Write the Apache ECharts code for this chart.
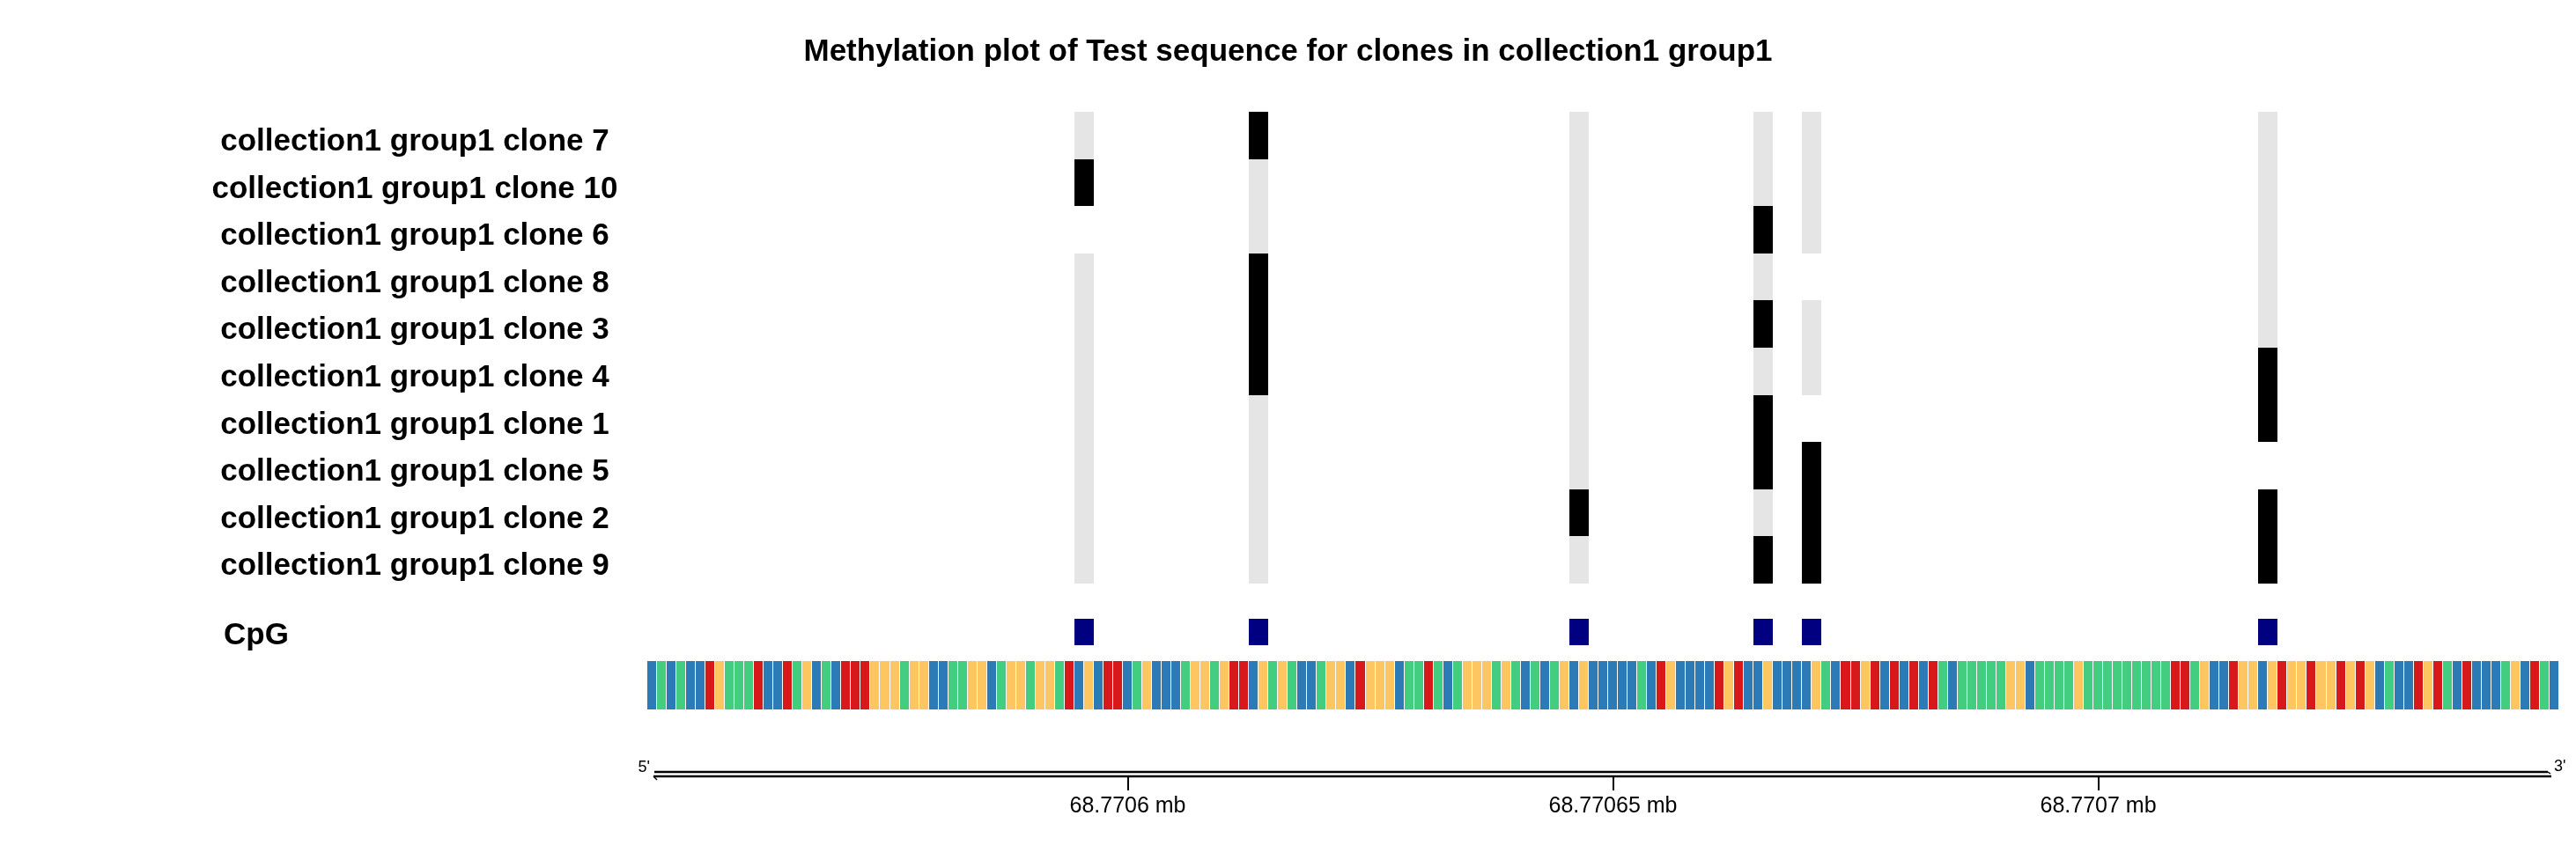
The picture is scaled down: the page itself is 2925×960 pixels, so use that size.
<!DOCTYPE html>
<html>
<head>
<meta charset="utf-8">
<script src="https://cdn.jsdelivr.net/npm/echarts@6/dist/echarts.min.js"></script>
<style>
html, body { margin: 0; padding: 0; background: #fff; }
#main { width: 2925px; height: 960px; }
</style>
</head>
<body>
<div id="main"></div>
<script>
// clones, top to bottom
var clones = [
    'collection1 group1 clone 7',
    'collection1 group1 clone 10',
    'collection1 group1 clone 6',
    'collection1 group1 clone 8',
    'collection1 group1 clone 3',
    'collection1 group1 clone 4',
    'collection1 group1 clone 1',
    'collection1 group1 clone 5',
    'collection1 group1 clone 2',
    'collection1 group1 clone 9'
];
// genomic position of the C of each CpG
var cpgPositions = [68770595, 68770613, 68770646, 68770665, 68770670, 68770717];
// 1 = methylated, 0 = unmethylated, null = no call (one entry per CpG)
var methylation = [
    [0, 1, 0, 0, 0, 0],
    [1, 0, 0, 0, 0, 0],
    [null, 0, 0, 1, 0, 0],
    [0, 1, 0, 0, null, 0],
    [0, 1, 0, 1, 0, 0],
    [0, 1, 0, 0, 0, 1],
    [0, 0, 0, 1, null, 1],
    [0, 0, 0, 1, 1, null],
    [0, 0, 1, 0, 1, 1],
    [0, 0, 0, 1, 1, 1]
];
var seqStart = 68770551;
var sequence = 'CACACCTGAAATCCTAGCACTTTGGGAGGCCAAGGCAGGAGGATCGCTTC' +
               'AGCCCAGGAGTTCGAGACCAGGCTGGGCAATACAGGGAGACACAGCGCCC' +
               'CCACTGCCCCTGTCCGCCCCGACTTGTCTCTCTACAAAAAGGCAAAAGAA' +
               'AAAAAAATTAGCCTGGCGTGGTGGTGTGCACCTGTACTCCCAGCTAC';
var tickValues = [68770600, 68770650, 68770700];
var tickLabels = ['68.7706 mb', '68.77065 mb', '68.7707 mb'];

var baseColors = { A: '#43cd80', C: '#2c7bb6', G: '#fdc661', T: '#d7191c' };
var FONT = '"Liberation Sans", Arial, Helvetica, sans-serif';

var xMin = seqStart - 0.5;
var xMax = seqStart + sequence.length - 0.5;

var myChart = echarts.init(document.getElementById('main'));

var methData = [];
for (var r = 0; r < clones.length; r++) {
    for (var c = 0; c < cpgPositions.length; c++) {
        if (methylation[r][c] !== null) {
            methData.push([cpgPositions[c], r, methylation[r][c]]);
        }
    }
}
var seqData = [];
for (var i = 0; i < sequence.length; i++) {
    seqData.push([seqStart + i, 0]);
}

function xAxisFor(gridIndex) {
    return {
        type: 'value', gridIndex: gridIndex, min: xMin, max: xMax,
        show: false, splitLine: { show: false }
    };
}

// snapped box from x range and band centre, so neighbours touch without seams
function box(api, xa, xb, row, gap) {
    var a = api.coord([xa, row]);
    var b = api.coord([xb, row]);
    var h = api.size([0, 1])[1];
    var x0 = Math.round(a[0]), x1 = Math.round(b[0]);
    var y0 = Math.round(a[1] - h / 2), y1 = Math.round(a[1] + h / 2);
    return { x: x0, y: y0, width: x1 - x0 - (gap || 0), height: y1 - y0 };
}

var axis3 = xAxisFor(3);
axis3.show = true;
axis3.position = 'bottom';
axis3.axisLine = { show: false };
axis3.axisTick = {
    show: true, customValues: tickValues, length: 16,
    lineStyle: { color: '#000', width: 2 }
};
axis3.axisLabel = {
    show: true, customValues: tickValues, margin: 22,
    fontSize: 25, color: '#000', fontFamily: FONT,
    formatter: function (v) {
        var k = tickValues.indexOf(v);
        return k >= 0 ? tickLabels[k] : '';
    }
};

var option = {
    animation: false,
    backgroundColor: '#fff',
    title: {
        text: 'Methylation plot of Test sequence for clones in collection1 group1',
        left: 'center',
        top: 37,
        textStyle: { fontSize: 35, fontWeight: 'bold', color: '#000', fontFamily: FONT }
    },
    grid: [
        { left: 735, right: 19, top: 127, height: 536 },
        { left: 735, right: 19, top: 703, height: 30 },
        { left: 735, right: 19, top: 751, height: 55 },
        { left: 735, right: 19, top: 872, height: 10 }
    ],
    xAxis: [xAxisFor(0), xAxisFor(1), xAxisFor(2), axis3],
    yAxis: [
        {
            type: 'category', gridIndex: 0, data: clones, inverse: true,
            axisLine: { show: false }, axisTick: { show: false }, splitLine: { show: false },
            axisLabel: {
                align: 'center', margin: 264, color: '#000',
                formatter: function (v) { return '{l|' + v + '}'; },
                rich: {
                    l: {
                        fontSize: 35, fontWeight: 'bold', fontFamily: FONT, color: '#000',
                        padding: [15, 0, 0, 0]
                    }
                }
            }
        },
        {
            type: 'category', gridIndex: 1, data: ['CpG'],
            axisLine: { show: false }, axisTick: { show: false }, splitLine: { show: false },
            axisLabel: {
                align: 'left', margin: 481, color: '#000',
                formatter: function (v) { return '{l|' + v + '}'; },
                rich: {
                    l: {
                        fontSize: 35, fontWeight: 'bold', fontFamily: FONT, color: '#000',
                        padding: [8, 0, 0, 0]
                    }
                }
            }
        },
        {
            type: 'category', gridIndex: 2, data: [''], show: false
        },
        {
            type: 'value', gridIndex: 3, min: 0, max: 1, show: false, splitLine: { show: false }
        }
    ],
    series: [
        {
            // methylation calls per clone
            type: 'custom', xAxisIndex: 0, yAxisIndex: 0,
            encode: { x: 0, y: 1 },
            data: methData,
            renderItem: function (params, api) {
                return {
                    type: 'rect',
                    shape: box(api, api.value(0) - 0.5, api.value(0) + 1.5, api.value(1)),
                    style: { fill: api.value(2) ? '#000000' : '#e5e5e5' }
                };
            }
        },
        {
            // CpG sites
            type: 'custom', xAxisIndex: 1, yAxisIndex: 1,
            encode: { x: 0, y: 1 },
            data: cpgPositions.map(function (p) { return [p, 0]; }),
            renderItem: function (params, api) {
                return {
                    type: 'rect',
                    shape: box(api, api.value(0) - 0.5, api.value(0) + 1.5, 0),
                    style: { fill: '#000080' }
                };
            }
        },
        {
            // sequence, one box per base
            type: 'custom', xAxisIndex: 2, yAxisIndex: 2,
            encode: { x: 0, y: 1 },
            data: seqData,
            renderItem: function (params, api) {
                var base = sequence.charAt(params.dataIndex);
                return {
                    type: 'rect',
                    shape: box(api, api.value(0) - 0.5, api.value(0) + 0.5, 0, 1),
                    style: { fill: baseColors[base] }
                };
            }
        },
        {
            // genome axis: double line with strand ends
            type: 'custom', xAxisIndex: 3, yAxisIndex: 3,
            data: [[xMin, xMax]],
            renderItem: function (params, api) {
                var lo = api.coord([api.value(0), 0]);
                var hi = api.coord([api.value(1), 0]);
                var top = Math.round(api.coord([api.value(0), 0.5])[1]);
                var bot = Math.round(lo[1]);
                var x0 = Math.round(lo[0]) + 7, x1 = Math.round(hi[0]) - 9;
                var line = { stroke: '#000', lineWidth: 2.5 };
                return {
                    type: 'group',
                    children: [
                        { type: 'line', shape: { x1: x0 + 1, y1: top, x2: x1 - 4, y2: top }, style: line },
                        { type: 'line', shape: { x1: x0, y1: bot, x2: x1, y2: bot }, style: line },
                        { type: 'line', shape: { x1: x0, y1: bot, x2: x0 + 4, y2: bot + 4 }, style: { stroke: '#000', lineWidth: 1.5 } },
                        { type: 'line', shape: { x1: x1 - 4, y1: top, x2: x1 - 1, y2: top + 2 }, style: { stroke: '#000', lineWidth: 1.5 } },
                        {
                            type: 'text',
                            style: { x: lo[0] + 3, y: top - 5, text: "5'", fill: '#000', font: '18px ' + FONT, align: 'right', verticalAlign: 'middle' }
                        },
                        {
                            type: 'text',
                            style: { x: x1 + 3, y: top - 6, text: "3'", fill: '#000', font: '18px ' + FONT, align: 'left', verticalAlign: 'middle' }
                        }
                    ]
                };
            }
        }
    ]
};

myChart.setOption(option);
</script>
</body>
</html>
